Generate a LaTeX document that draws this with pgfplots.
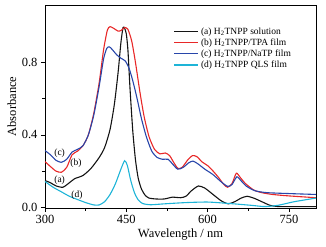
\documentclass[border=0pt]{standalone}
\usepackage{fontspec}
\setmainfont{Liberation Serif}
\usepackage{pgfplots}
\pgfplotsset{compat=1.18}
\definecolor{cA}{RGB}{20,20,20}
\definecolor{cB}{RGB}{232,40,40}
\definecolor{cC}{RGB}{40,70,170}
\definecolor{cD}{RGB}{30,180,215}
\begin{document}
\begin{tikzpicture}
\begin{axis}[
  scale only axis, width=271pt, height=203pt,
  xmin=300, xmax=800, ymin=-0.005, ymax=1.12,
  xtick={300,450,600,750}, ytick={0,0.4,0.8},
  yticklabel style={/pgf/number format/fixed,/pgf/number format/fixed zerofill,/pgf/number format/precision=1},
  /pgf/number format/assume math mode=true,
  minor x tick num=1, minor y tick num=1,
  tick align=outside, tick pos=left,
  major tick length=4pt, minor tick length=2.5pt,
  every tick/.style={black, line width=0.8pt},
  axis line style={line width=0.9pt},
  ticklabel style={font=\fontsize{12.5}{14}\selectfont},
  xlabel={Wavelength / nm}, ylabel={Absorbance},
  label style={font=\fontsize{12.5}{14}\selectfont},
  xlabel style={at={(axis description cs:0.5,-0.133)}, anchor=center},
  ylabel style={at={(axis description cs:-0.122,0.5)}, anchor=center},
  legend style={at={(rel axis cs:0.464,0.91)}, anchor=north west, draw=none, fill=none,
    font=\fontsize{9.5}{11}\selectfont, row sep=-1pt},
  legend cell align=left,
  legend image code/.code={\draw[#1] (0pt,0pt) -- (24pt,0pt);},
  every axis plot/.append style={line width=1.1pt, smooth, tension=0.4},
]
\addplot[cA] coordinates {(300,0.147)(310,0.135)(320,0.118)(333,0.110)(345,0.135)(355,0.158)(370,0.175)(385,0.215)(400,0.275)(410,0.33)(420,0.43)(428,0.57)(435,0.75)(440,0.91)(444,0.995)(447,0.99)(450,0.96)(453,0.87)(457,0.65)(462,0.42)(467,0.26)(472,0.16)(478,0.10)(485,0.065)(492,0.05)(505,0.045)(520,0.045)(535,0.055)(550,0.052)(560,0.06)(570,0.09)(583,0.117)(595,0.105)(610,0.07)(625,0.035)(638,0.018)(650,0.03)(662,0.05)(673,0.06)(685,0.05)(700,0.03)(715,0.01)(730,0.003)(760,0.003)(800,0.003)};
\addlegendentry{(a) H\textsubscript{2}TNPP solution}
\addplot[cB] coordinates {(300,0.252)(310,0.225)(320,0.200)(330,0.193)(340,0.22)(350,0.29)(360,0.31)(370,0.34)(380,0.40)(390,0.52)(400,0.69)(408,0.87)(415,0.98)(420,1.0)(427,0.99)(435,0.975)(441,0.98)(447,0.995)(453,0.985)(460,0.92)(467,0.80)(475,0.64)(483,0.50)(492,0.39)(502,0.32)(512,0.295)(522,0.30)(530,0.285)(537,0.25)(545,0.215)(553,0.22)(563,0.26)(572,0.285)(580,0.28)(590,0.25)(600,0.23)(610,0.20)(620,0.165)(630,0.125)(637,0.11)(645,0.13)(653,0.188)(660,0.165)(670,0.13)(685,0.095)(700,0.08)(720,0.07)(750,0.062)(800,0.052)};
\addlegendentry{(b) H\textsubscript{2}TNPP/TPA film}
\addplot[cC] coordinates {(300,0.313)(310,0.29)(320,0.26)(330,0.248)(340,0.265)(350,0.305)(360,0.32)(370,0.34)(380,0.40)(390,0.51)(400,0.67)(408,0.82)(414,0.88)(419,0.888)(425,0.87)(432,0.845)(440,0.825)(448,0.81)(455,0.77)(462,0.70)(470,0.60)(478,0.49)(487,0.39)(497,0.31)(507,0.275)(517,0.265)(527,0.265)(535,0.24)(545,0.21)(555,0.22)(565,0.245)(573,0.255)(582,0.24)(595,0.21)(610,0.18)(625,0.14)(637,0.115)(645,0.125)(654,0.168)(662,0.145)(672,0.115)(688,0.09)(710,0.08)(750,0.075)(800,0.07)};
\addlegendentry{(c) H\textsubscript{2}TNPP/NaTP film}
\addplot[cD] coordinates {(300,0.142)(315,0.11)(330,0.085)(345,0.06)(360,0.042)(375,0.025)(390,0.012)(400,0.012)(410,0.03)(420,0.07)(430,0.13)(440,0.21)(447,0.257)(452,0.23)(458,0.15)(465,0.08)(472,0.04)(480,0.02)(495,0.013)(520,0.018)(560,0.025)(600,0.028)(640,0.02)(680,0.01)(705,0.003)(730,0.01)(760,0.03)(800,0.05)};
\addlegendentry{(d) H\textsubscript{2}TNPP QLS film}
\node[font=\fontsize{9.5}{11}\selectfont] at (axis cs:327,0.30) {(c)};
\node[font=\fontsize{9.5}{11}\selectfont] at (axis cs:357,0.245) {(b)};
\node[font=\fontsize{9.5}{11}\selectfont] at (axis cs:327,0.147) {(a)};
\node[font=\fontsize{9.5}{11}\selectfont] at (axis cs:359,0.068) {(d)};
\end{axis}
\path (current axis.south west) ++(-45pt,-38pt) coordinate (bbA);
\path (current axis.north east) ++(10pt,5pt) coordinate (bbB);
\useasboundingbox (bbA) rectangle (bbB);
\end{tikzpicture}
\end{document}
